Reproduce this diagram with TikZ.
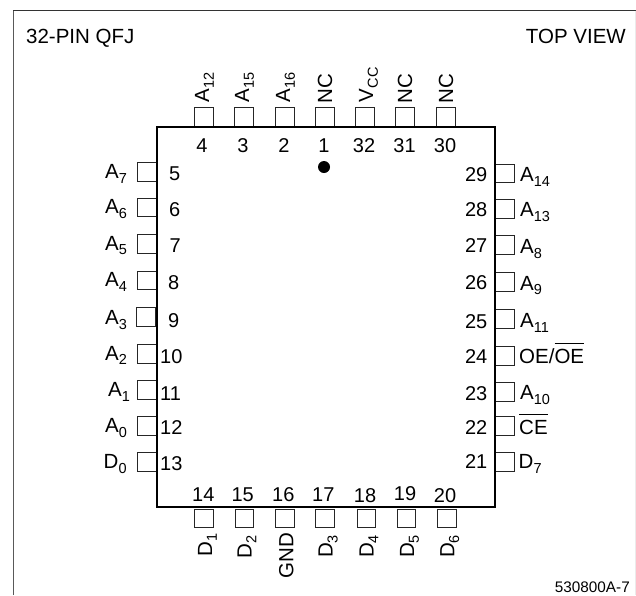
\documentclass[tikz,border=0pt]{standalone}
\usepackage{fontspec}
\setmainfont{Liberation Sans}
\usetikzlibrary{positioning}
\newcommand{\pinfont}{\fontsize{20.5}{22}\selectfont}
\newcommand{\pinsub}[1]{\raisebox{-4.8pt}{\fontsize{14.5}{15}\selectfont #1}}
\newcommand{\pinbar}[1]{\setbox0\hbox{#1}\rlap{\rule[19.1pt]{\wd0}{0.9pt}}\box0}
\tikzset{
    padbox/.style={draw=black!85,line width=0.8pt,minimum size=18.5pt,inner sep=0pt,outer sep=0pt},
    pinnum/.style={font=\fontsize{20}{22}\selectfont,inner sep=0pt,anchor=base},
    pinlabel/.style={font=\pinfont,inner sep=0pt},
    sidelabel/.style={pinlabel,rotate=90,anchor=base west}
}
\begin{document}
\begin{tikzpicture}[x=1pt,y=-1pt]
\useasboundingbox (0,0) rectangle (636,595);
% === OUTER FRAME ===
\draw[black!65,line width=1pt] (13.5,595) -- (13.5,10.5);
\draw[black!80,line width=1pt] (13,10.5) -- (636,10.5);
\draw[black!8,line width=1pt] (635.5,10.5) -- (635.5,595);
\node[pinlabel,anchor=base west] (title) at (26,43) {32-PIN QFJ};
\node[pinlabel,anchor=base east] (view) at (626,43) {TOP VIEW};
\node[pinlabel,font=\fontsize{15.3}{16}\selectfont,anchor=base east] (partno) at (630,592.5) {530800A-7};
% === TOP PINS ===
\foreach \n/\x/\xnum/\off/\ylab/\lab in {4/204/202/5/102.7/{A\pinsub{12}},3/244/243/5/102.7/{A\pinsub{15}},2/285/284/5/102.7/{A\pinsub{16}},1/325/324/7/103.5/NC,32/365/364/8/102.2/{V\pinsub{CC}},31/405/404.5/7/103.5/NC,30/446/445/7/103.5/NC} {
    \node[padbox] (pad\n) at (\x,117) {};
    \node[pinnum] (num\n) at (\xnum,152) {\n};
    \node[sidelabel] (lab\n) at (\x+\off,\ylab) {\lab};
}
% === LEFT PINS ===
\foreach \n/\ypos/\ylab/\ynum/\xnum/\xpad/\xlab/\lab in {5/172/178.3/180.7/169/147/105/{A\pinsub{7}},6/207.5/213.5/216/169/147/105/{A\pinsub{6}},7/244/250/252/169.5/147/105/{A\pinsub{5}},8/280.5/286.7/289.3/168/147/105/{A\pinsub{4}},9/316.7/324.5/327.3/168/146/105/{A\pinsub{3}},10/354/360/363.3/160/147/105/{A\pinsub{2}},11/390/396.7/400/160/147/108/{A\pinsub{1}},12/425.7/432.7/434/160/147/105/{A\pinsub{0}},13/461.7/468.3/470.7/160/147/103.5/{D\pinsub{0}}} {
    \node[padbox] (pad\n) at (\xpad,\ypos) {};
    \node[pinnum,anchor=base west] (num\n) at (\xnum,\ynum) {\n};
    \node[pinlabel,anchor=base west] (lab\n) at (\xlab,\ylab) {\lab};
}
% === RIGHT PINS ===
\foreach \n/\ypos/\ylab/\ynum/\xlab/\lab in {29/173.5/181.7/181/520/{A\pinsub{14}},28/209/216.7/216/520/{A\pinsub{13}},27/245/253.3/252.7/520/{A\pinsub{8}},26/281.8/290/289.3/520/{A\pinsub{9}},25/319/327.7/328.3/520/{A\pinsub{11}},24/355.8/363.3/363.3/519/{OE/\pinbar{OE}},23/391.7/399.3/400/520/{A\pinsub{10}},22/425.8/434/434/519/{\pinbar{CE}},21/461.8/468.3/468.3/518.5/{D\pinsub{7}}} {
    \node[padbox] (pad\n) at (505,\ypos) {};
    \node[pinnum,anchor=base east] (num\n) at (487.5,\ynum) {\n};
    \node[pinlabel,anchor=base west] (lab\n) at (\xlab,\ylab) {\lab};
}
% === BOTTOM PINS ===
\foreach \n/\x/\xnum/\ynum/\off/\ylab/\lab in {14/204/203.3/501.7/8/556.5/{D\pinsub{1}},15/244.5/242.7/501.7/7/558.5/{D\pinsub{2}},16/285/283.3/501.7/8.3/578.8/GND,17/325/323.3/501.7/7.7/558/{D\pinsub{3}},18/366.5/365/502.3/7/558/{D\pinsub{4}},19/406.5/405/500.7/7.5/558/{D\pinsub{5}},20/447/445/502/7.3/558/{D\pinsub{6}}} {
    \node[padbox] (pad\n) at (\x,518.5) {};
    \node[pinnum] (num\n) at (\xnum,\ynum) {\n};
    \node[sidelabel] (lab\n) at (\x+\off,\ylab) {\lab};
}
% === PACKAGE BODY ===
\draw[line width=2pt] (157,126.5) rectangle (494.5,507);
\fill (324,167) circle (6);
\end{tikzpicture}
\end{document}
